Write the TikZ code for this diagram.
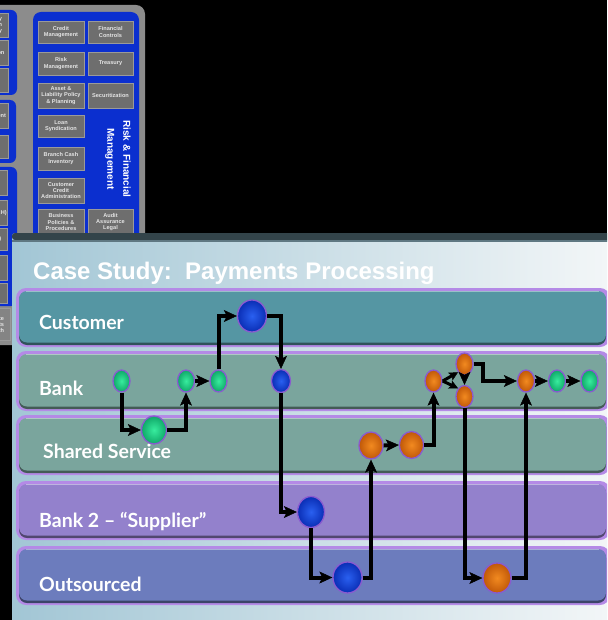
\documentclass[tikz,border=0pt]{standalone}
\usepackage{fontspec}
\setmainfont{Liberation Sans}
\newfontfamily\lanefont{Lato}
\usetikzlibrary{shapes.geometric,arrows.meta,calc}

\definecolor{panelgrey}{HTML}{8C8C8C}
\definecolor{panelblue}{HTML}{0B2FCF}
\definecolor{boxgrey}{HTML}{6E6E6E}
\definecolor{boxedge}{HTML}{9A9A9A}
\definecolor{boxtext}{HTML}{E4E4E4}
\definecolor{slideleft}{HTML}{A2C6D5}
\definecolor{slideright}{HTML}{F4F7F8}
\definecolor{slidetop}{HTML}{33444A}
\definecolor{laneglow}{HTML}{B48AE6}
\definecolor{custlane}{HTML}{5596A3}
\definecolor{banklane}{HTML}{7AA59D}
\definecolor{supplane}{HTML}{9381CC}
\definecolor{outlane}{HTML}{6C7CBD}
\definecolor{nodeglow}{HTML}{8A5AD0}
\definecolor{grnin}{HTML}{38EC9E}
\definecolor{grnout}{HTML}{0FA868}
\definecolor{bluin}{HTML}{2A60F0}
\definecolor{bluout}{HTML}{0A2EB5}
\definecolor{orgin}{HTML}{F28A20}
\definecolor{orgout}{HTML}{C05808}

% one swimlane: top y, bottom y, fill colour
\newcommand\swimlane[3]{%
  \fill[laneglow,rounded corners=10pt] (16,#1-3) rectangle (610,#2+3);
  \fill[#3!55!black,rounded corners=8pt] (19,#1+1) rectangle (606,#2+1);
  \fill[#3,rounded corners=8pt] (19,#1) rectangle (606,#2-1.5);
  \draw[#3!60!white,line width=0.8pt] (26,#1+0.6) -- (599,#1+0.6);
}

\begin{document}
\begin{tikzpicture}[x=1pt,y=-1pt,
  lanelabel/.style={anchor=base west,text=white,inner sep=0pt,
    font=\lanefont\bfseries\fontsize{19.5}{21}\selectfont},
  stage/.style={ellipse,inner sep=0pt,draw=nodeglow,line width=1.3pt,shading=radial},
  smallstage/.style={stage,minimum width=17pt,minimum height=22pt},
  bigstage/.style={stage,minimum width=27pt,minimum height=31pt},
  grn/.style={inner color=grnin,outer color=grnout},
  blu/.style={inner color=bluin,outer color=bluout},
  org/.style={inner color=orgin,outer color=orgout},
  flow/.style={line width=4pt,line join=miter,
    -{Stealth[length=13pt,width=12pt,inset=3pt,line width=0.5pt]}},
  splitflow/.style={line width=3pt,line join=miter,
    -{Stealth[length=9pt,width=9pt,inset=2pt,line width=0.5pt]}},
  panelbox/.style={fill=boxgrey,draw=boxedge,line width=0.6pt,align=center,
    text=boxtext,inner sep=0pt,
    font=\bfseries\fontsize{5.6}{6.3}\selectfont},
  edgebox/.style={panelbox,align=right,inner xsep=1pt},
]
\useasboundingbox (0,0) rectangle (607,620);
\clip (0,0) rectangle (607,620);
\fill[black] (0,0) rectangle (607,620);

% ---------- process map panel behind the slide ----------
\fill[panelgrey,rounded corners=9pt] (-20,5) rectangle (145,345);
% left-hand blocks (partly off the page)
\fill[panelblue,rounded corners=6pt] (-20,10) rectangle (17,95);
\fill[panelblue,rounded corners=6pt] (-20,100) rectangle (16,163);
\fill[panelblue,rounded corners=6pt] (-20,167) rectangle (17,306);
\node[edgebox,minimum width=40pt,minimum height=24pt,anchor=north east] (la1) at (9,13) {Strategy\\Execution\\Delivery};
\node[edgebox,minimum width=40pt,minimum height=25pt,anchor=north east] (la2) at (9,40) {Distribution};
\node[edgebox,minimum width=40pt,minimum height=24pt,anchor=north east] (la3) at (9,68) {};
\node[edgebox,minimum width=40pt,minimum height=25pt,anchor=north east] (lb1) at (9,103) {Procurement};
\node[edgebox,minimum width=40pt,minimum height=23pt,anchor=north east] (lb2) at (9,135) {Sales};
\node[edgebox,minimum width=40pt,minimum height=25pt,anchor=north east] (lc1) at (8,170) {};
\node[edgebox,minimum width=40pt,minimum height=25pt,anchor=north east] (lc2) at (8,200) {Payments (ACH)};
\node[edgebox,minimum width=40pt,minimum height=22pt,anchor=north east] (lc3) at (8,228) {(Treasury)};
\node[edgebox,minimum width=40pt,minimum height=25pt,anchor=north east] (lc4) at (8,255) {Treasury};
\node[edgebox,minimum width=40pt,minimum height=20pt,anchor=north east] (lc5) at (8,283) {};
\node[edgebox,minimum width=40pt,minimum height=32pt,anchor=north east,fill=boxgrey!85!white] (ld1) at (11,308) {Clearance\\Accounts\\Health};

% risk and financial management block
\fill[panelblue,rounded corners=8pt] (33,12) rectangle (139,250);
\node[panelbox,minimum width=46pt,minimum height=22pt] (p1) at (61,32) {Credit\\Management};
\node[panelbox,minimum width=45pt,minimum height=22pt] (p2) at (110.5,32) {Financial\\Controls};
\node[panelbox,minimum width=46pt,minimum height=23pt] (p3) at (61,63.5) {Risk\\Management};
\node[panelbox,minimum width=45pt,minimum height=23pt] (p4) at (110.5,63.5) {Treasury};
\node[panelbox,minimum width=46pt,minimum height=25pt] (p5) at (61,95.5) {Asset \&\\Liability Policy\\\& Planning};
\node[panelbox,minimum width=45pt,minimum height=25pt] (p6) at (110.5,95.5) {Securitization};
\node[panelbox,minimum width=46pt,minimum height=22pt] (p7) at (61,126) {Loan\\Syndication};
\node[panelbox,minimum width=46pt,minimum height=23pt] (p8) at (61,158.5) {Branch Cash\\Inventory};
\node[panelbox,minimum width=46pt,minimum height=25pt] (p9) at (61,190.5) {Customer\\Credit\\Administration};
\node[panelbox,minimum width=46pt,minimum height=26pt] (p10) at (61,222) {Business\\Policies \&\\Procedures};
\node[panelbox,minimum width=45pt,minimum height=26pt] (p11) at (110.5,222) {Audit\\Assurance\\Legal};
\node[rotate=-90,text=white,align=center,inner sep=0pt,
  font=\bfseries\fontsize{10}{16}\selectfont] (rfm) at (118,159) {Risk \& Financial\\Management};

% ---------- slide ----------
\shade[left color=slideleft,right color=slideright,rounded corners=3pt] (12,233) rectangle (620,630);
\fill[slidetop,rounded corners=3pt] (12,233) rectangle (620,240);
\fill[slidetop!60!slideleft] (12,240) rectangle (620,241.5);

\node[anchor=base west,text=white,inner sep=0pt,
  font=\bfseries\fontsize{24}{28}\selectfont] (title) at (33,279) {Case Study:\ \ Payments Processing};

% swimlanes
\swimlane{291}{344}{custlane}
\swimlane{354}{408}{banklane}
\swimlane{418}{472}{banklane}
\swimlane{484}{537}{supplane}
\swimlane{549}{602}{outlane}

\node[lanelabel] (lcust) at (39,329) {Customer};
\node[lanelabel] (lbank) at (39,395) {Bank};
\node[lanelabel] (lshared) at (43,458) {Shared Service};
\node[lanelabel] (lsupp) at (39,527) {Bank 2 – “Supplier”};
\node[lanelabel] (lout) at (39,591) {Outsourced};

% process steps
\node[bigstage,blu,minimum width=29pt,minimum height=32pt] (C1) at (252,316) {};

\node[smallstage,grn] (B1) at (121.5,381) {};
\node[smallstage,grn] (B2) at (186,381) {};
\node[smallstage,grn] (B3) at (218.5,381) {};
\node[smallstage,blu,minimum width=19pt,minimum height=23pt] (B4) at (281,381) {};
\node[smallstage,org] (B5) at (433.5,381) {};
\node[smallstage,org] (B6) at (464.5,364) {};
\node[smallstage,org] (B7) at (464.5,396.5) {};
\node[smallstage,org] (B8) at (526,381) {};
\node[smallstage,grn] (B9) at (557,381) {};
\node[smallstage,grn] (B10) at (589.5,381) {};

\node[bigstage,grn,minimum width=25pt,minimum height=28pt] (S1) at (154,430) {};
\node[bigstage,org,minimum width=24pt,minimum height=27pt] (S2) at (371,445.5) {};
\node[bigstage,org,minimum width=24pt,minimum height=27pt] (S3) at (411.5,445) {};

\node[bigstage,blu] (K1) at (311,512) {};
\node[bigstage,blu,minimum width=29pt] (O1) at (347.5,577.5) {};
\node[bigstage,org,minimum width=28pt,minimum height=30pt] (O2) at (497,578) {};

% flow of the payment
\draw[flow] (B1.south) |- (S1.west);
\draw[flow] (S1.east) -| (B2.south);
\draw[flow] (B2.east) -- (B3.west);
\draw[flow] (B3.north) |- (C1.west);
\draw[flow] (C1.east) -| (B4.north);
\draw[flow] (B4.south) |- (K1.west);
\draw[flow] (K1.south) |- (O1.west);
\draw[flow] (O1.east) -| (S2.south);
\draw[flow] (S2.east) -- (S3.west);
\draw[flow] (S3.east) -| (B5.south);
\draw[splitflow] (B5.east) -- (B6.south west);
\draw[splitflow] (B5.east) -- (B7.north west);
\draw[flow] (B6.south) -- (B7.north);
\draw[flow] (B6.east) -- ++(9,0) |- (B8.west);
\draw[flow] (B7.south) |- (O2.west);
\draw[flow] (O2.east) -| (B8.south);
\draw[flow] (B8.east) -- (B9.west);
\draw[flow] (B9.east) -- (B10.west);
\end{tikzpicture}
\end{document}
